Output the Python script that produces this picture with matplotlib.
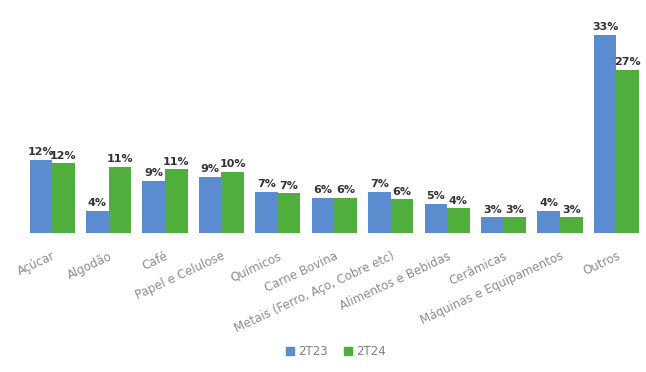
import numpy as np
import matplotlib.pyplot as plt
from matplotlib.patches import Patch

categorias = ["Açúcar", "Algodão", "Café", "Papel e Celulose", "Químicos",
              "Carne Bovina", "Metais (Ferro, Aço, Cobre etc)", "Alimentos e Bebidas",
              "Cerâmicas", "Máquinas e Equipamentos", "Outros"]
serie_2t23 = [12.2, 3.7, 8.7, 9.4, 6.9, 5.9, 6.9, 4.9, 2.6, 3.7, 33.0]
serie_2t24 = [11.6, 11.0, 10.6, 10.2, 6.6, 5.9, 5.6, 4.1, 2.6, 2.6, 27.2]
nomes = ["2T23", "2T24"]

azul = '#5B8CCF'
verde = '#4FAE3C'

fig = plt.figure(figsize=(6.46, 3.72), dpi=100)
ax = fig.add_axes([0.037, 0.374, 0.961, 0.572])

x = np.arange(len(categorias))
w = 0.4
b1 = ax.bar(x - w / 2, serie_2t23, w, color=azul)
b2 = ax.bar(x + w / 2, serie_2t24, w, color=verde)

# rótulos de porcentagem acima de cada barra
for bars, vals in ((b1, serie_2t23), (b2, serie_2t24)):
    for r, v in zip(bars, vals):
        ax.annotate(f"{v:.0f}%", (r.get_x() + r.get_width() / 2, v),
                    xytext=(0, 2), textcoords='offset points',
                    ha='center', va='bottom', fontsize=8, fontweight='bold',
                    color='#333333')

ax.set_xlim(-0.5, len(categorias) - 0.5)
ax.set_ylim(0, 35.5)
ax.set_yticks([])
ax.set_xticks(x)
ax.set_xticklabels(categorias, rotation=25, ha='right', va='top',
                   rotation_mode='anchor', fontsize=8.5, color='#8c8c8c')
ax.tick_params(axis='x', length=0, pad=12)
for s in ax.spines.values():
    s.set_visible(False)

handles = [Patch(color=azul), Patch(color=verde)]
fig.legend(handles, nomes, loc='center', bbox_to_anchor=(0.52, 0.054), ncol=2,
           frameon=False, fontsize=8.5, labelcolor='#7f7f7f',
           handlelength=0.7, handleheight=0.7, handletextpad=0.3, columnspacing=1.4)

fig.savefig('out.png', dpi=100)
